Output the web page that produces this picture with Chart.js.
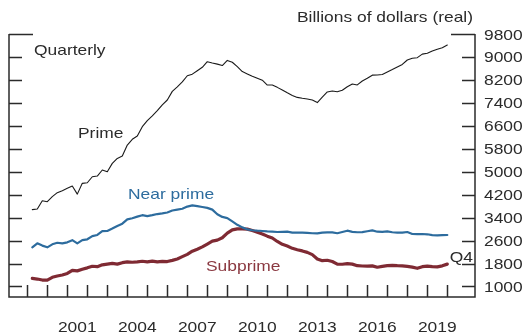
<!DOCTYPE html>
<html>
<head>
<meta charset="utf-8">
<script src="https://cdn.jsdelivr.net/npm/chart.js@4.4.1/dist/chart.umd.min.js"></script>
<style>
  html, body { margin: 0; padding: 0; background: #fff; }
  #wrap { width: 531px; height: 336px; }
</style>
</head>
<body>
<div id="wrap"><canvas id="debtChart" width="531" height="336"></canvas></div>
<script>
// Quarterly series, 1999 Q1 .. 2019 Q4, billions of real dollars
const startYear = 1999;
const endYear = 2019;

const prime = [
  3680, 3700, 3990, 3955, 4130, 4270, 4340, 4420, 4500, 4220, 4595, 4615,
  4825, 4850, 5060, 5000, 5290, 5465, 5545, 5930, 6130, 6245, 6570, 6780,
  6950, 7130, 7330, 7500, 7800, 7960, 8130, 8345, 8400, 8520, 8640, 8835,
  8790, 8750, 8700, 8880, 8815, 8660, 8490, 8410, 8330, 8260, 8190, 8020,
  8020, 7940, 7850, 7750, 7660, 7590, 7560, 7535, 7500, 7410, 7600, 7780,
  7815, 7790, 7840, 7960, 8060, 8025, 8160, 8255, 8365, 8370, 8390, 8475,
  8560, 8650, 8740, 8895, 8955, 8975, 9100, 9130, 9210, 9270, 9320, 9415
];

const nearPrime = [
  2365, 2505, 2425, 2365, 2470, 2525, 2505, 2540, 2615, 2505, 2615, 2645,
  2755, 2795, 2930, 2935, 3020, 3110, 3190, 3340, 3380, 3435, 3485, 3455,
  3485, 3525, 3550, 3580, 3650, 3680, 3710, 3785, 3825, 3800, 3770, 3740,
  3680, 3520, 3425, 3385, 3270, 3150, 3060, 2990, 2960, 2945, 2935, 2920,
  2910, 2900, 2905, 2910, 2880, 2875, 2875, 2870, 2855, 2850, 2875, 2885,
  2885, 2855, 2900, 2945, 2905, 2890, 2895, 2925, 2955, 2910, 2905, 2920,
  2890, 2880, 2880, 2900, 2830, 2825, 2830, 2820, 2790, 2785, 2790, 2795
];

const subprime = [
  1280, 1260, 1225, 1225, 1320, 1365, 1400, 1455, 1565, 1545, 1600, 1650,
  1705, 1690, 1755, 1780, 1805, 1780, 1830, 1860, 1845, 1860, 1880, 1860,
  1885, 1860, 1875, 1870, 1910, 1960, 2040, 2120, 2230, 2300, 2380, 2480,
  2580, 2615, 2700, 2860, 2975, 3010, 3010, 3000, 2950, 2890, 2830, 2755,
  2690, 2570, 2470, 2410, 2330, 2280, 2240, 2190, 2110, 1960, 1900, 1915,
  1870, 1780, 1775, 1800, 1780, 1725, 1715, 1710, 1720, 1670, 1700, 1725,
  1735, 1725, 1720, 1700, 1675, 1635, 1690, 1710, 1690, 1685, 1720, 1780
];

const yTicks = [1000, 1800, 2600, 3400, 4200, 5000, 5800, 6600, 7400, 8200, 9000, 9800];
const yearLabels = [2001, 2004, 2007, 2010, 2013, 2016, 2019];

// each quarter sits at the end of its quarter on a decimal-year axis
const quarters = [];
for (let y = startYear; y <= endYear; y++) {
  for (let q = 1; q <= 4; q++) quarters.push(y + q / 4);
}

function toPoints(values) {
  return values.map((v, i) => ({ x: quarters[i], y: v }));
}

const INK = '#2b2b2b';
const BLUE = '#2d6c9e';
const RED = '#7f2a33';
const STRETCH = 1.16;
const FONT = '15px "Liberation Sans", Arial, Helvetica, sans-serif';

function stretchedText(ctx, str, x, y, align, color) {
  ctx.save();
  ctx.translate(x, y);
  ctx.scale(STRETCH, 1);
  ctx.font = FONT;
  ctx.fillStyle = color || INK;
  ctx.textAlign = align;
  ctx.textBaseline = 'alphabetic';
  ctx.fillText(str, 0, 0);
  ctx.restore();
}

// frame with inward ticks on three sides, plus all the text
const framePlugin = {
  id: 'frame',
  afterDraw(chart) {
    const ctx = chart.ctx;
    const area = chart.chartArea;
    const xs = chart.scales.x;
    const ys = chart.scales.y;

    ctx.save();
    ctx.strokeStyle = INK;
    ctx.lineWidth = 1.5;
    ctx.beginPath();
    ctx.moveTo(area.left, area.top);
    ctx.lineTo(area.left, area.bottom);
    ctx.lineTo(area.right, area.bottom);
    ctx.lineTo(area.right, area.top);
    ctx.stroke();

    ctx.beginPath();
    yTicks.forEach((t) => {
      const py = Math.round(ys.getPixelForValue(t)) + 0.5;
      const len = t === 9800 ? 24 : 13;
      ctx.moveTo(area.left, py);
      ctx.lineTo(area.left + len, py);
      ctx.moveTo(area.right, py);
      ctx.lineTo(area.right - len, py);
    });
    for (let y = startYear; y <= endYear + 1; y++) {
      const px = Math.round(xs.getPixelForValue(y)) + 0.5;
      ctx.moveTo(px, area.bottom);
      ctx.lineTo(px, area.bottom - 12);
    }
    ctx.stroke();
    ctx.restore();

    yTicks.forEach((t) => {
      const py = ys.getPixelForValue(t);
      stretchedText(ctx, String(t), area.right + 9, py + 5.5, 'left');
    });
    yearLabels.forEach((y) => {
      stretchedText(ctx, String(y), xs.getPixelForValue(y + 0.5), 332, 'center');
    });

    stretchedText(ctx, 'Billions of dollars (real)', area.right - 2, 22, 'right');
    stretchedText(ctx, 'Quarterly', 34, 55, 'left');
    stretchedText(ctx, 'Prime', 78, 138, 'left');
    stretchedText(ctx, 'Near prime', 128, 199, 'left', BLUE);
    stretchedText(ctx, 'Subprime', 206, 271, 'left', '#8a3840');
    stretchedText(ctx, 'Q4', area.right - 2, 262, 'right');
  }
};

new Chart(document.getElementById('debtChart'), {
  type: 'line',
  data: {
    datasets: [
      { label: 'Prime', data: toPoints(prime), borderColor: '#1a1a1a', borderWidth: 1.1 },
      { label: 'Near prime', data: toPoints(nearPrime), borderColor: BLUE, borderWidth: 2.2 },
      { label: 'Subprime', data: toPoints(subprime), borderColor: RED, borderWidth: 3.2 }
    ]
  },
  options: {
    responsive: false,
    animation: false,
    devicePixelRatio: 1,
    layout: { padding: { left: 9, right: 56, top: 34, bottom: 39 } },
    elements: {
      point: { radius: 0 },
      line: { tension: 0, borderJoinStyle: 'round', borderCapStyle: 'round', fill: false }
    },
    plugins: {
      legend: { display: false },
      tooltip: { enabled: false }
    },
    scales: {
      x: { type: 'linear', display: false, min: 1998.085, max: 2021.385 },
      y: { type: 'linear', display: false, min: 634, max: 9800 }
    }
  },
  plugins: [framePlugin]
});
</script>
</body>
</html>
